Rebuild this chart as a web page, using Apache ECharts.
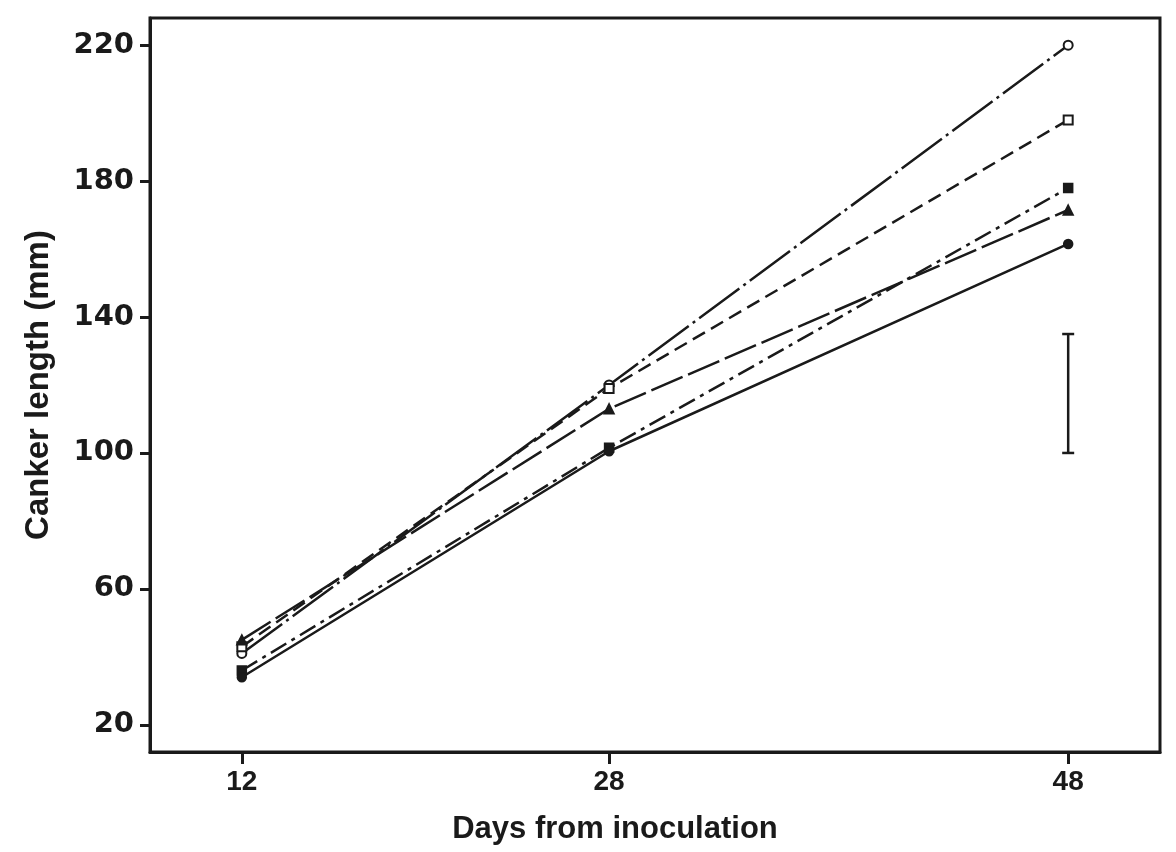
<!DOCTYPE html>
<html>
<head>
<meta charset="utf-8">
<script src="https://cdn.jsdelivr.net/npm/echarts@6/dist/echarts.min.js"></script>
<style>
  html, body { margin: 0; padding: 0; background: #fff; }
  #chart { width: 1176px; height: 852px; }
</style>
</head>
<body>
<div id="chart"></div>
<script>
// days after inoculation
var days = [12, 28, 48];

// canker length (mm), one list per treatment
var openCircle   = [41, 120, 220];
var openSquare   = [43, 119, 198];
var filledSquare = [36, 101.5, 178];
var triangle     = [45, 113, 171.5];
var filledCircle = [34, 100.5, 161.5];

// LSD bar drawn at day 48
var errorBar = [48, 100, 135];

var yTicks = [20, 60, 100, 140, 180, 220];

function pairs(vals) {
    return days.map(function (d, i) { return [d, vals[i]]; });
}

function lineSeries(name, vals, symbol, dash) {
    return {
        name: name,
        type: 'line',
        data: pairs(vals),
        symbol: symbol,
        symbolSize: symbol === 'triangle' ? 10 : 9,
        lineStyle: { color: '#1a1a1a', width: 2.5, type: dash },
        itemStyle: { color: '#1a1a1a', borderColor: '#1a1a1a', borderWidth: 1.5 },
        z: 3
    };
}

var chart = echarts.init(document.getElementById('chart'));

var option = {
    backgroundColor: '#fff',
    animation: false,
    grid: {
        left: 150, right: 16, top: 18, bottom: 100,
        show: true, borderColor: '#1a1a1a', borderWidth: 3
    },
    xAxis: {
        type: 'value',
        min: 8, max: 52,
        name: 'Days from inoculation',
        nameLocation: 'middle',
        nameGap: 62,
        nameTextStyle: {
            fontFamily: 'Liberation Sans', fontWeight: 'bold', fontSize: 31, color: '#1a1a1a',
            padding: [0, 80, 0, 0]
        },
        axisLine: { lineStyle: { color: '#1a1a1a', width: 3 } },
        axisTick: { customValues: days, length: 12, lineStyle: { color: '#1a1a1a', width: 3 } },
        axisLabel: {
            customValues: days, margin: 16,
            fontFamily: 'Liberation Sans', fontWeight: 'bold', fontSize: 28, color: '#1a1a1a'
        },
        splitLine: { show: false }
    },
    yAxis: {
        type: 'value',
        min: 12, max: 228,
        name: 'Canker length (mm)',
        nameLocation: 'middle',
        nameGap: 95,
        nameTextStyle: { fontFamily: 'Liberation Sans', fontWeight: 'bold', fontSize: 33, color: '#1a1a1a' },
        axisLine: { lineStyle: { color: '#1a1a1a', width: 3 } },
        axisTick: { customValues: yTicks, length: 10, lineStyle: { color: '#1a1a1a', width: 3 } },
        axisLabel: {
            customValues: yTicks, margin: 16,
            fontFamily: 'DejaVu Sans', fontWeight: 'bold', fontSize: 29, color: '#1a1a1a'
        },
        splitLine: { show: false }
    },
    series: [
        lineSeries('open circle', openCircle, 'emptyCircle', [50, 5, 3, 5]),
        lineSeries('open square', openSquare, 'emptyRect', [14, 7]),
        lineSeries('filled square', filledSquare, 'rect', [18, 6, 4, 6]),
        lineSeries('triangle', triangle, 'triangle', [34, 6]),
        lineSeries('filled circle', filledCircle, 'circle', 'solid'),
        {
            name: 'LSD',
            type: 'custom',
            data: [errorBar],
            renderItem: function (params, api) {
                var top = api.coord([api.value(0), api.value(2)]);
                var bot = api.coord([api.value(0), api.value(1)]);
                var cap = 6;
                var st = { stroke: '#1a1a1a', lineWidth: 2.5 };
                return {
                    type: 'group',
                    children: [
                        { type: 'line', shape: { x1: top[0], y1: top[1], x2: bot[0], y2: bot[1] }, style: st },
                        { type: 'line', shape: { x1: top[0] - cap, y1: top[1], x2: top[0] + cap, y2: top[1] }, style: st },
                        { type: 'line', shape: { x1: bot[0] - cap, y1: bot[1], x2: bot[0] + cap, y2: bot[1] }, style: st }
                    ]
                };
            },
            z: 3
        }
    ]
};

chart.setOption(option);
</script>
</body>
</html>
